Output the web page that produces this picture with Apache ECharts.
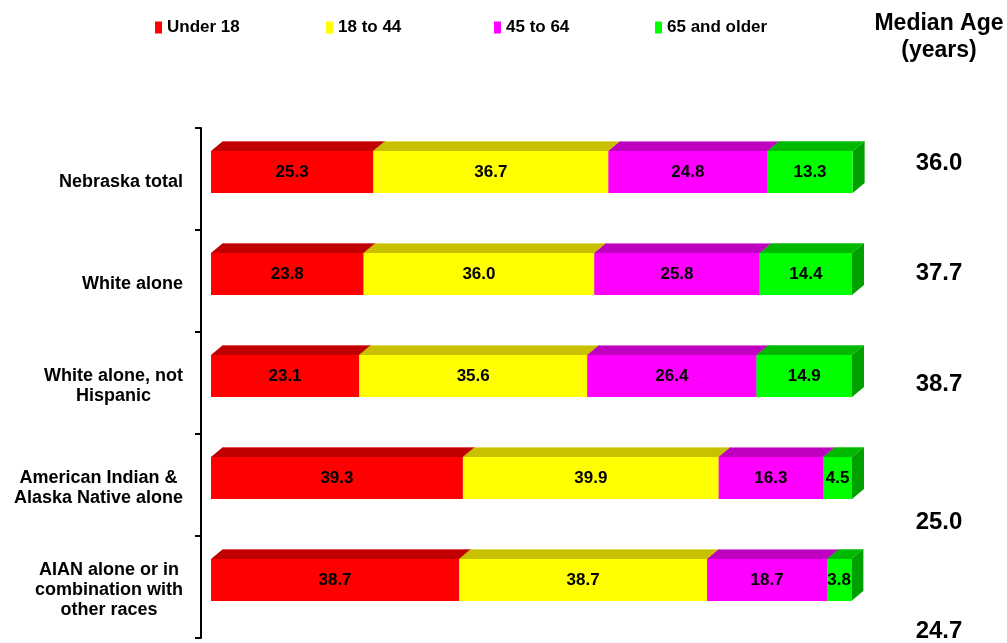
<!DOCTYPE html>
<html><head><meta charset="utf-8">
<script src="https://cdn.jsdelivr.net/npm/echarts@6/dist/echarts.min.js"></script>
<style>html,body{margin:0;padding:0;background:#fff}#c{width:1007px;height:643px}</style>
</head><body><div id="c"></div>
<script>
const categories = ['Nebraska total', 'White alone', 'White alone, not\nHispanic', 'American Indian &\nAlaska Native alone', 'AIAN alone or in\ncombination with\nother races'];
const seriesNames = ['Under 18', '18 to 44', '45 to 64', '65 and older'];
const under18 = [25.3, 23.8, 23.1, 39.3, 38.7];
const age18to44 = [36.7, 36.0, 35.6, 39.9, 38.7];
const age45to64 = [24.8, 25.8, 26.4, 16.3, 18.7];
const age65plus = [13.3, 14.4, 14.9, 4.5, 3.8];
const medianAge = ['36.0', '37.7', '38.7', '25.0', '24.7'];

const FONT = "'Liberation Sans', Arial, sans-serif";
const front = ['#FF0000', '#FFFF00', '#FF00FF', '#00FF00'];
const topC = ['#C00000', '#C8C000', '#C000C0', '#00B800'];
const edgeC = ['#E05050', '#E0E060', '#E070E0', '#40D040'];
const sideC = ['#A00000', '#A0A000', '#A000A0', '#00A000'];
const DX = 12, DY = 10, H = 42, SHIFT = -7;
const medianDy = [-16, -8, 1, 37, 44];

const values = [under18, age18to44, age45to64, age65plus];
const cum = categories.map(() => 0);
const series = values.map((arr, s) => {
  const data = arr.map((v, i) => { const st = cum[i]; cum[i] += v; return [st, cum[i], i, v]; });
  return {
    name: seriesNames[s], type: 'custom', itemStyle: { color: front[s] },
    encode: { x: [0, 1], y: 2 },
    data: data,
    renderItem: function (params, api) {
      const a = api.coord([api.value(0), api.value(2)]);
      const b = api.coord([api.value(1), api.value(2)]);
      const x0 = a[0], x1 = b[0];
      const yt = a[1] + SHIFT - H / 2, yb = yt + H;
      return { type: 'group', children: [
        { type: 'polygon', shape: { points: [[x1, yt], [x1 + DX, yt - DY], [x1 + DX, yb - DY], [x1, yb]] }, style: { fill: sideC[s] } },
        { type: 'polygon', shape: { points: [[x0, yt], [x0 + DX, yt - DY], [x1 + DX, yt - DY], [x1, yt]] }, style: { fill: topC[s] } },
        { type: 'line', shape: { x1: x0 + DX, y1: yt - DY + 0.5, x2: x1 + DX, y2: yt - DY + 0.5 }, style: { stroke: edgeC[s], lineWidth: 1 } },
        { type: 'rect', shape: { x: x0, y: yt, width: x1 - x0, height: H }, style: { fill: front[s] } },
        { type: 'text', x: (x0 + x1) / 2, y: yt + H / 2, style: { text: api.value(3).toFixed(1), fill: '#000', font: 'bold 17px ' + FONT, align: 'center', verticalAlign: 'middle' } }
      ] };
    }
  };
});

series.push({
  name: 'median', type: 'custom', silent: true,
  encode: { x: 0, y: 1 },
  data: medianAge.map((m, i) => [100, i, m]),
  renderItem: function (params, api) {
    const p = api.coord([100, api.value(1)]);
    const i = params.dataIndex;
    return { type: 'text', x: p[0] + 87, y: p[1] + medianDy[i], style: { text: medianAge[i], fill: '#000', font: 'bold 24px ' + FONT, align: 'center', verticalAlign: 'middle' } };
  }
});

const legendLeft = [150, 321, 489, 650];
const chart = echarts.init(document.getElementById('c'));
chart.setOption({
  animation: false,
  graphic: [{ type: 'text', x: 939, y: 10, style: { text: 'Median Age\n(years)', font: 'bold 23px ' + FONT, fill: '#000', align: 'center', lineHeight: 27 } }],
  legend: seriesNames.map((n, i) => ({
    data: [n], left: legendLeft[i], top: 14, icon: 'rect', itemWidth: 7, itemHeight: 12, itemGap: 0,
    textStyle: { fontFamily: FONT, fontWeight: 'bold', fontSize: 17, color: '#000' }, selectedMode: false
  })),
  grid: { left: 211, right: 155, top: 128, bottom: 5 },
  xAxis: { type: 'value', min: 0, max: 100, show: false },
  yAxis: {
    type: 'category', inverse: true, data: categories, offset: 10,
    axisLine: { show: true, onZero: false, lineStyle: { color: '#000', width: 2 } },
    axisTick: { show: true, length: 6, lineStyle: { color: '#000', width: 2 } },
    axisLabel: {
      margin: 18, color: '#000', padding: [6, 0, 0, 0],
      formatter: v => v.split('\n').map(l => '{a|' + l + '}').join('\n'),
      rich: { a: { align: 'center', fontFamily: FONT, fontWeight: 'bold', fontSize: 18, lineHeight: 20, color: '#000' } }
    },
    splitLine: { show: false }
  },
  series: series
});
</script></body></html>
